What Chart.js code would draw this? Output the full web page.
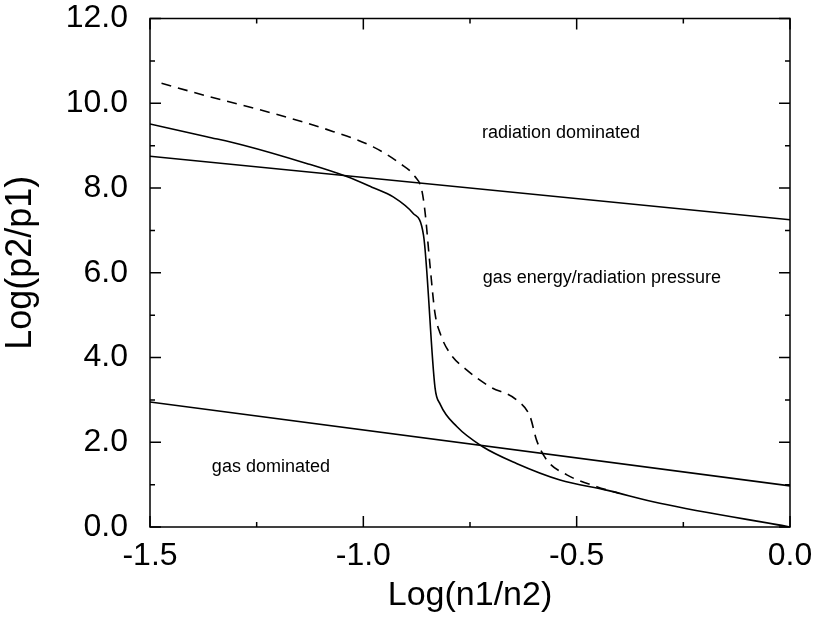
<!DOCTYPE html>
<html>
<head>
<meta charset="utf-8">
<script src="https://cdn.jsdelivr.net/npm/chart.js@4"></script>
<style>
  html, body { margin: 0; padding: 0; background: #fff; }
  #wrap { width: 815px; height: 618px; }
</style>
</head>
<body>
<div id="wrap"><canvas id="phaseChart"></canvas></div>
<script>
// boundary lines (straight)
const upperLineX = [-1.5, 0.0];
const upperLineY = [8.75, 7.25];
const lowerLineX = [-1.5, 0.0];
const lowerLineY = [2.95, 0.97];

// solid curve
const solidX = [-1.5, -1.367, -1.281, -1.133, -1.039, -0.980, -0.930, -0.883, -0.859, -0.832, -0.820, -0.781, -0.721, -0.641, -0.539, -0.430, -0.305, 0.0];
const solidY = [9.51, 9.21, 9.01, 8.58, 8.27, 8.02, 7.79, 7.40, 6.89, 3.29, 2.90, 2.37, 1.90, 1.50, 1.11, 0.87, 0.56, 0.0];

// dashed curve
const dashedX = [-1.473, -1.359, -1.211, -1.070, -0.977, -0.914, -0.879, -0.863, -0.855, -0.844, -0.832, -0.820, -0.797, -0.758, -0.703, -0.641, -0.609, -0.594, -0.570, -0.523, -0.453, -0.400];
const dashedY = [10.47, 10.15, 9.76, 9.33, 8.97, 8.58, 8.27, 7.95, 7.40, 6.20, 5.04, 4.57, 4.10, 3.71, 3.31, 3.00, 2.60, 2.05, 1.58, 1.23, 0.95, 0.79];

// region labels
const regionLabels = ['radiation dominated', 'gas energy/radiation pressure', 'gas dominated'];
const regionX = [-0.722, -0.720, -1.355];
const regionY = [9.30, 5.88, 1.42];

const FONT = "'Liberation Sans', Arial, Helvetica, sans-serif";

function toPoints(xs, ys) {
    return xs.map((x, i) => ({ x: x, y: ys[i] }));
}

function lineSet(xs, ys, dash, smooth) {
    return {
        data: toPoints(xs, ys),
        showLine: true,
        borderColor: '#000',
        borderWidth: 1.6,
        borderDash: dash || [],
        pointRadius: 0,
        cubicInterpolationMode: smooth ? 'monotone' : 'default',
        tension: 0,
        fill: false
    };
}

// inner ticks on all four sides, frame, y title and region texts
const framePlugin = {
    id: 'framePlugin',
    afterDraw(chart) {
        const ctx = chart.ctx;
        const a = chart.chartArea;
        const xs = chart.scales.x;
        const ys = chart.scales.y;
        ctx.save();
        ctx.strokeStyle = '#000';
        ctx.lineWidth = 1.5;
        ctx.strokeRect(a.left, a.top, a.right - a.left, a.bottom - a.top);

        const xMajor = xs.ticks.map(t => t.value);
        const yMajor = ys.ticks.map(t => t.value);
        const mids = vals => vals.slice(1).map((v, i) => (v + vals[i]) / 2);

        ctx.beginPath();
        const xTick = (v, len) => {
            const px = xs.getPixelForValue(v);
            ctx.moveTo(px, a.bottom); ctx.lineTo(px, a.bottom - len);
            ctx.moveTo(px, a.top); ctx.lineTo(px, a.top + len);
        };
        const yTick = (v, len) => {
            const py = ys.getPixelForValue(v);
            ctx.moveTo(a.left, py); ctx.lineTo(a.left + len, py);
            ctx.moveTo(a.right, py); ctx.lineTo(a.right - len, py);
        };
        xMajor.forEach(v => xTick(v, 11));
        mids(xMajor).forEach(v => xTick(v, 5));
        yMajor.forEach(v => yTick(v, 11));
        mids(yMajor).forEach(v => yTick(v, 5));
        ctx.stroke();

        ctx.fillStyle = '#000';

        // y axis title, sits a little above the middle of the axis
        ctx.save();
        ctx.font = '36px ' + FONT;
        ctx.textAlign = 'center';
        ctx.textBaseline = 'middle';
        ctx.translate(21, (a.top + a.bottom) / 2 - 10);
        ctx.rotate(-Math.PI / 2);
        ctx.fillText('Log(p2/p1)', 0, 0);
        ctx.restore();

        ctx.font = '18px ' + FONT;
        ctx.textAlign = 'left';
        ctx.textBaseline = 'middle';
        regionLabels.forEach((txt, i) => {
            ctx.fillText(txt, xs.getPixelForValue(regionX[i]), ys.getPixelForValue(regionY[i]));
        });
        ctx.restore();
    }
};

new Chart(document.getElementById('phaseChart'), {
    type: 'scatter',
    data: {
        datasets: [
            lineSet(upperLineX, upperLineY),
            lineSet(lowerLineX, lowerLineY),
            lineSet(solidX, solidY, null, true),
            lineSet(dashedX, dashedY, [10, 7], true)
        ]
    },
    options: {
        responsive: true,
        maintainAspectRatio: false,
        animation: false,
        events: [],
        layout: {
            padding: { top: 18.5, right: 25, left: 0, bottom: 0 }
        },
        plugins: {
            legend: { display: false },
            tooltip: { enabled: false }
        },
        scales: {
            x: {
                type: 'linear',
                min: -1.5,
                max: 0.0,
                afterFit: scale => {
                    scale.height = 91;
                    scale.paddingLeft = 0;
                    scale.paddingRight = 0;
                },
                grid: { display: false, drawTicks: false },
                border: { display: false },
                ticks: {
                    stepSize: 0.5,
                    padding: 10,
                    color: '#000',
                    maxRotation: 0,
                    font: { family: FONT, size: 32 },
                    callback: v => v.toFixed(1)
                },
                title: {
                    display: true,
                    text: 'Log(n1/n2)',
                    color: '#000',
                    padding: { top: 0, bottom: 2 },
                    font: { family: FONT, size: 34 }
                }
            },
            y: {
                type: 'linear',
                min: 0,
                max: 12,
                afterFit: scale => {
                    scale.width = 150;
                    scale.paddingTop = 0;
                    scale.paddingBottom = 0;
                },
                grid: { display: false, drawTicks: false },
                border: { display: false },
                ticks: {
                    stepSize: 2,
                    padding: 22,
                    color: '#000',
                    font: { family: FONT, size: 32 },
                    callback: v => v.toFixed(1)
                },
                title: { display: false }
            }
        }
    },
    plugins: [framePlugin]
});
</script>
</body>
</html>
